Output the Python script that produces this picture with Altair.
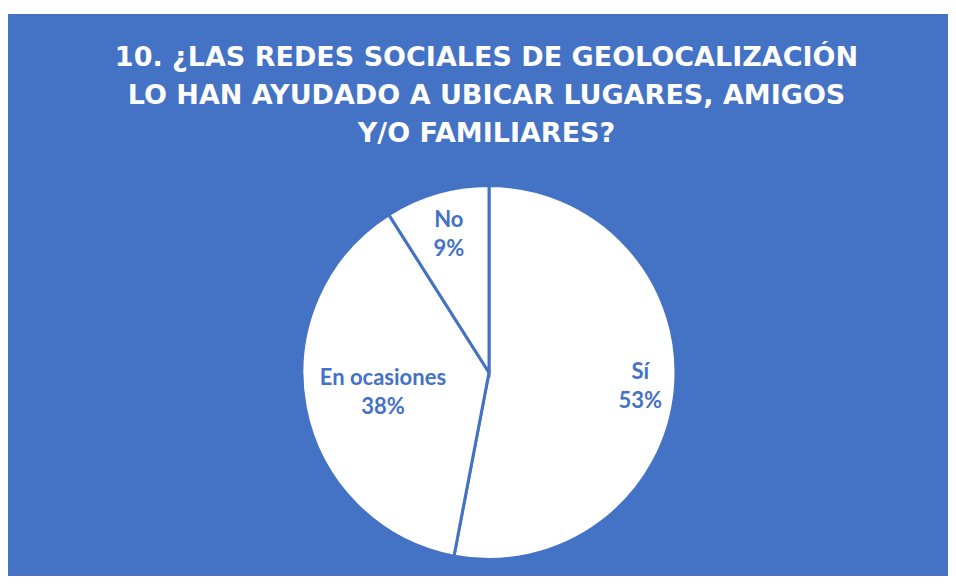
import altair as alt
import pandas as pd

# ---- data ----
categorias = ["Sí", "En ocasiones", "No"]
porcentajes = [53, 38, 9]
orden = [1, 2, 3]
titulo = [
    "10. ¿LAS REDES SOCIALES DE GEOLOCALIZACIÓN",
    "LO HAN AYUDADO A UBICAR LUGARES, AMIGOS",
    "Y/O FAMILIARES?",
]

BLUE = "#4472C4"
FONT = "Lato"
CX, CY, R = 481, 358.5, 187

df = pd.DataFrame({"cat": categorias, "valor": porcentajes, "orden": orden})

base = alt.Chart(df).encode(
    theta=alt.Theta("valor:Q", stack=True),
    order=alt.Order("orden:Q"),
).transform_calculate(lbl="[datum.cat, datum.valor + '%']")

pie = base.mark_arc(
    outerRadius=R, stroke=BLUE, strokeWidth=3, color="white", x=CX, y=CY,
    strokeJoin="miter",
)

label_radius = {"Sí": 152, "En ocasiones": 108, "No": 144}
labels = []
for c in categorias:
    labels.append(
        base.mark_text(
            radius=label_radius[c], x=CX, y=CY, dy=-14.5, font=FONT, fontWeight="bold",
            fontSize=22, color=BLUE, lineHeight=29, baseline="middle", align="center",
        ).encode(
            text=alt.condition(alt.datum.cat == c, "lbl:N", alt.value(""))
        )
    )

title = alt.Chart(pd.DataFrame({"t": [0]})).mark_text(
    font="DejaVu Sans", fontWeight="bold", fontSize=27, color="white",
    lineHeight=38, align="center", baseline="alphabetic",
).encode(
    x=alt.value(478.5), y=alt.value(52), text=alt.value(titulo)
)

chart = alt.layer(pie, *labels, title).properties(
    width=940, height=562,
    autosize=alt.AutoSizeParams(type="none"),
    padding={"top": 6, "left": 0, "right": 0, "bottom": 0},
    background="white",
).configure_view(fill=BLUE, strokeWidth=0)

chart.save("out.html", embed_options={"renderer": "svg", "actions": False})
